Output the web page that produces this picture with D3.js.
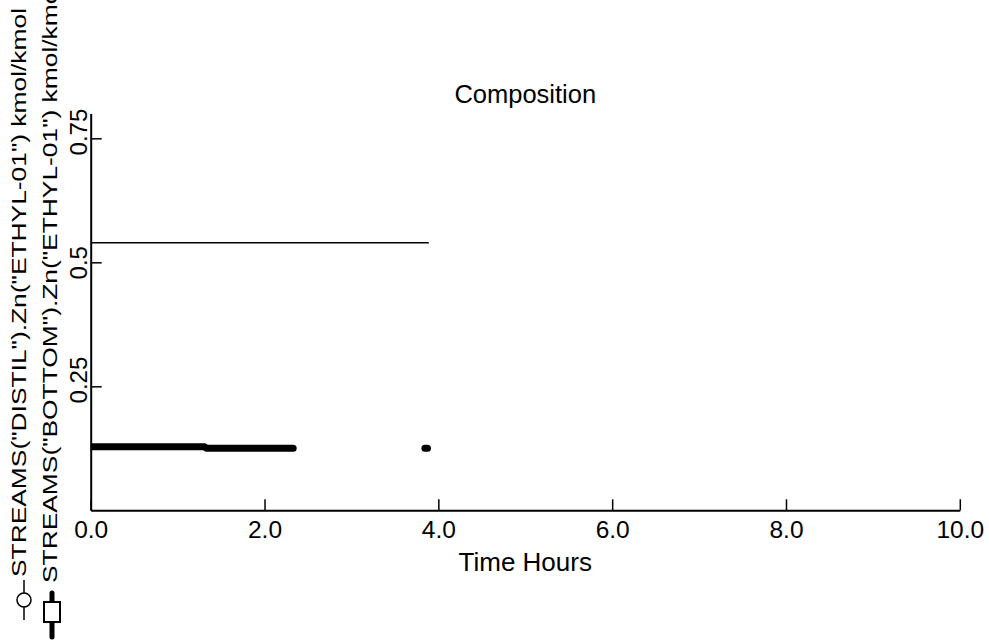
<!DOCTYPE html>
<html lang="en">
<head>
  <title>Composition</title>
  <meta charset="UTF-8" />
  <script src="https://cdn.jsdelivr.net/npm/d3@7"></script>
  <style>
    body 
      {
      margin: 0;
      background-color: #ffffff;
      }
    svg text
      {
      font-family: "Liberation Sans", Arial, Helvetica, sans-serif;
      fill: #000;
      }
  </style>
</head>
<body>

<div id="chart"></div>

<script>
// values
const xTicks = [0, 2, 4, 6, 8, 10];
const yTicks = [0.25, 0.5, 0.75];

const distilTime  = [0, 3.89];
const distilValue = [0.5395, 0.5395];

// null = gap in the record
const bottomTime  = [0, 1.31, 1.33, 2.33, 2.34, 3.845, 3.875];
const bottomValue = [0.128, 0.128, 0.1252, 0.1252, null, 0.1252, 0.1252];

const seriesLabels = [
  'STREAMS("DISTIL").Zn("ETHYL-01") kmol/kmol',
  'STREAMS("BOTTOM").Zn("ETHYL-01") kmol/kmol'
];

const W = 989, H = 640;
const plot = { left: 90.7, right: 959.8, top: 113.5, bottom: 510.3 };

const x = d3.scaleLinear().domain([0, 10]).range([plot.left, plot.right]);
const y = d3.scaleLinear().domain([0, 0.8]).range([plot.bottom, plot.top]);

const svg = d3.select("#chart")
  .append("svg")
  .attr("width", W)
  .attr("height", H);

svg.append("defs").append("clipPath")
  .attr("id", "clip")
  .append("rect")
  .attr("x", plot.left)
  .attr("y", plot.top - 10)
  .attr("width", plot.right - plot.left)
  .attr("height", plot.bottom - plot.top + 10);

// title
svg.append("text")
  .attr("x", (plot.left + plot.right) / 2)
  .attr("y", 103)
  .attr("text-anchor", "middle")
  .style("font-size", "25.5px")
  .text("Composition");

// x axis
const xAxis = svg.append("g")
  .attr("transform", `translate(0,${plot.bottom})`)
  .call(d3.axisBottom(x).tickValues(xTicks).tickSizeInner(-11).tickSizeOuter(0).tickPadding(0).tickFormat(d3.format(".1f")));
xAxis.select(".domain").attr("stroke-width", 2);
xAxis.selectAll(".tick line").attr("stroke-width", 1.5);
xAxis.selectAll(".tick text")
  .attr("y", 28)
  .attr("dy", 0)
  .style("font-size", "24.5px")
  .style("font-family", '"Liberation Sans", Arial, sans-serif');

svg.append("text")
  .attr("x", (plot.left + plot.right) / 2)
  .attr("y", 571)
  .attr("text-anchor", "middle")
  .style("font-size", "26px")
  .text("Time Hours");

// y axis
const yAxis = svg.append("g")
  .attr("transform", `translate(${plot.left},0)`)
  .call(d3.axisLeft(y).tickValues(yTicks).tickSizeInner(-11).tickSizeOuter(0).tickFormat(d => String(d)));
yAxis.select(".domain").attr("stroke-width", 2);
yAxis.selectAll(".tick line").attr("stroke-width", 1.5);
// rotated labels, decimal point sitting on the tick
yAxis.selectAll(".tick text")
  .attr("x", 0)
  .attr("y", 0)
  .attr("dy", 0)
  .attr("dx", "-0.695em")
  .attr("text-anchor", "start")
  .attr("transform", "translate(-4,0) rotate(-90)")
  .style("font-size", "24px")
  .style("font-family", '"Liberation Sans", Arial, sans-serif');

// series labels, written upward along the left edge
const labelBase = [{ bx: 26, by: 577 }, { bx: 57, by: 583 }];
const labelText = svg.selectAll(".ylab")
  .data(seriesLabels)
  .join("text")
  .attr("class", "ylab")
  .attr("transform", (d, i) => `translate(${labelBase[i].bx},${labelBase[i].by}) rotate(-90)`)
  .attr("text-anchor", "start")
  .style("font-size", "21px")
  .text(d => d);

// the reference stretches these along their length
const natural0 = labelText.nodes()[0].getComputedTextLength();
const stretch = 569 / natural0;
labelText.each(function () {
  const len = this.getComputedTextLength();
  d3.select(this).attr("textLength", len * stretch).attr("lengthAdjust", "spacingAndGlyphs");
});

// legend symbols under the labels
svg.append("line")
  .attr("x1", 24).attr("x2", 24).attr("y1", 580).attr("y2", 620)
  .attr("stroke", "#000").attr("stroke-width", 1.5);
svg.append("circle")
  .attr("cx", 24).attr("cy", 600).attr("r", 7)
  .attr("fill", "#fff").attr("stroke", "#000").attr("stroke-width", 1.5);

svg.append("line")
  .attr("x1", 52).attr("x2", 52).attr("y1", 593).attr("y2", 637)
  .attr("stroke", "#000").attr("stroke-width", 5).attr("stroke-linecap", "round");
svg.append("rect")
  .attr("x", 44).attr("y", 602).attr("width", 16).attr("height", 20)
  .attr("fill", "#fff").attr("stroke", "#000").attr("stroke-width", 2);

// data
const plotArea = svg.append("g").attr("clip-path", "url(#clip)");

const distil = distilTime.map((t, i) => ({ t, v: distilValue[i] }));
const bottom = bottomTime.map((t, i) => ({ t, v: bottomValue[i] }));

const line = d3.line()
  .defined(d => d.v !== null)
  .x(d => x(d.t))
  .y(d => y(d.v));

plotArea.append("path")
  .datum(distil)
  .attr("fill", "none")
  .attr("stroke", "#000")
  .attr("stroke-width", 1.5)
  .attr("d", line);

plotArea.append("path")
  .datum(bottom)
  .attr("fill", "none")
  .attr("stroke", "#000")
  .attr("stroke-width", 7)
  .attr("stroke-linecap", "round")
  .attr("stroke-linejoin", "round")
  .attr("d", line);
</script>
</body>
</html>
